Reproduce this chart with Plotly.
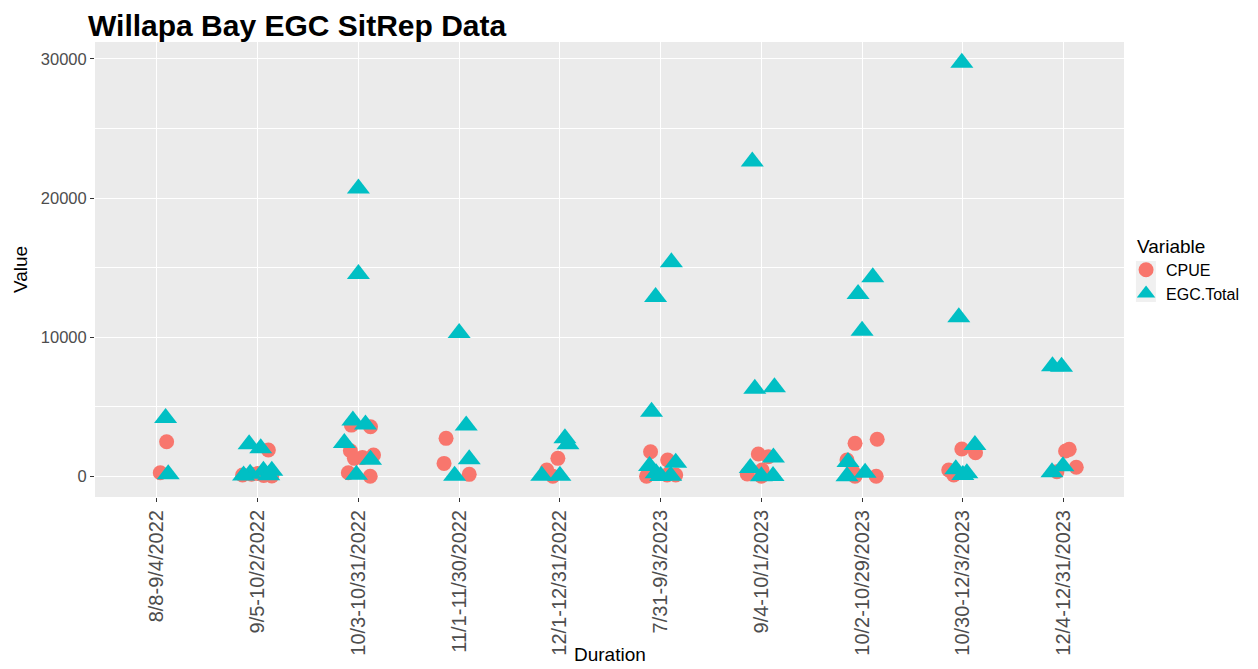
import plotly.graph_objects as go

categories = ["8/8-9/4/2022", "9/5-10/2/2022", "10/3-10/31/2022", "11/1-11/30/2022",
              "12/1-12/31/2022", "7/31-9/3/2023", "9/4-10/1/2023", "10/2-10/29/2023",
              "10/30-12/3/2023", "12/4-12/31/2023"]

# CPUE points: category index (1-based), jitter offset, value
cpue_cat = [1, 1,
            2, 2, 2, 2, 2, 2,
            3, 3, 3, 3, 3, 3, 3, 3,
            4, 4, 4,
            5, 5, 5,
            6, 6, 6, 6, 6,
            7, 7, 7, 7, 7,
            8, 8, 8, 8, 8, 8,
            9, 9, 9, 9,
            10, 10, 10, 10]
cpue_jit = [0.096, 0.033,
            -0.15, -0.06, 0.0, 0.06, 0.106, 0.14,
            -0.07, 0.12, -0.08, 0.04, 0.15, -0.04, -0.10, 0.117,
            -0.13, -0.15, 0.10,
            -0.02, -0.13, -0.07,
            -0.10, 0.07, -0.14, 0.064, 0.15,
            -0.03, 0.07, -0.14, 0.007, 0.0,
            -0.07, 0.15, -0.15, -0.09, 0.14, -0.07,
            -0.01, 0.126, -0.14, -0.09,
            0.056, 0.02, 0.126, -0.066]
cpue_val = [2480, 260,
            100, 150, 200, 60, 1890, 20,
            3680, 3560, 1840, 1360, 1530, 1290, 260, 0,
            2730, 930, 140,
            1290, 450, 0,
            1770, 1170, 0, 90, 90,
            1600, 1410, 170, 450, 0,
            2370, 2660, 1170, 330, 0, 0,
            1960, 1690, 450, 90,
            1940, 1820, 650, 330]

# EGC.Total points
egc_cat = [1, 1,
           2, 2, 2, 2, 2, 2, 2,
           3, 3, 3, 3, 3, 3, 3,
           4, 4, 4, 4,
           5, 5, 5, 5,
           6, 6, 6, 6, 6, 6, 6, 6,
           7, 7, 7, 7, 7, 7, 7,
           8, 8, 8, 8, 8, 8,
           9, 9, 9, 9, 9, 9,
           10, 10, 10, 10]
egc_jit = [0.086, 0.112,
           -0.085, 0.03, -0.075, 0.057, 0.14, -0.14, 0.11,
           0.0, 0.0, -0.055, 0.07, -0.14, 0.12, -0.02,
           0.0, 0.07, 0.10, -0.045,
           0.05, 0.08, -0.18, 0.0,
           0.107, -0.05, -0.09, 0.15, -0.11, -0.045, 0.1, 0.0,
           -0.09, -0.065, 0.13, 0.12, -0.11, 0.116, 0.0,
           0.106, -0.04, 0.0, -0.14, 0.03, -0.15,
           -0.01, -0.04, 0.12, -0.07, 0.04, 0.0,
           -0.11, -0.02, -0.006, -0.115]
egc_val = [4200, 140,
           2300, 2010, 190, 400, 400, 50, 80,
           20690, 14540, 4020, 3730, 2390, 1190, 115,
           10300, 3660, 1220, 45,
           2730, 2300, 45, 45,
           15380, 12890, 4640, 980, 740, 215, 45, 20,
           22620, 6290, 6410, 1360, 600, 20, 0,
           14300, 13100, 10470, 1030, 260, 0,
           29730, 11430, 2250, 500, 215, 100,
           7910, 7880, 720, 290]

y_ticks = [0, 10000, 20000, 30000]

FONT = "Liberation Sans, Arial, sans-serif"

fig = go.Figure()
fig.add_trace(go.Scatter(
    x=[c + j for c, j in zip(cpue_cat, cpue_jit)], y=cpue_val,
    mode="markers", name="CPUE",
    marker=dict(symbol="circle", size=15, color="#F8766D", line=dict(width=0)),
))
fig.add_trace(go.Scatter(
    x=[c + j for c, j in zip(egc_cat, egc_jit)], y=egc_val,
    mode="markers", name="EGC.Total",
    marker=dict(symbol="triangle-up", size=20, color="#00BFC4", line=dict(width=0)),
))

ymax = max(max(cpue_val), max(egc_val))
ymin = min(min(cpue_val), min(egc_val))
pad = 0.05 * (ymax - ymin)

fig.update_layout(
    width=1250, height=661,
    paper_bgcolor="white", plot_bgcolor="#EBEBEB",
    margin=dict(l=81, r=134, t=34, b=172),
    font=dict(family=FONT, color="black"),
    title=dict(text="<b>Willapa Bay EGC SitRep Data</b>", font=dict(size=30, color="black"),
               xref="container", x=0.064, xanchor="left", yref="container", y=0.973, yanchor="middle"),
    xaxis=dict(
        range=[0.385, len(categories) + 0.6],
        tickmode="array", tickvals=list(range(1, len(categories) + 1)), ticktext=categories,
        tickangle=-90, tickfont=dict(size=20, color="#4D4D4D"),
        showgrid=True, gridcolor="white", gridwidth=1.1, zeroline=False,
        ticks="outside", ticklen=4, tickcolor="#333333", tickwidth=1,
    ),
    yaxis=dict(
        range=[ymin - pad, ymax + pad],
        tickmode="array", tickvals=y_ticks, tickformat="d",
        tickfont=dict(size=16.5, color="#4D4D4D"),
        showgrid=True, gridcolor="white", gridwidth=1.1, zeroline=False,
        minor=dict(dtick=5000, tick0=0, showgrid=True, gridcolor="white", gridwidth=0.5),
        ticks="outside", ticklen=4, tickcolor="#333333", tickwidth=1,
        title=dict(text="Value", font=dict(size=19, color="black"), standoff=8),
    ),
    legend=dict(
        font=dict(size=16, color="black"),
        x=1.002, xanchor="left", y=0.473, yanchor="middle",
        bgcolor="rgba(0,0,0,0)", tracegroupgap=0, itemwidth=30,
    ),
    shapes=[dict(type="rect", xref="paper", yref="paper",
                 x0=1.0116, x1=1.031, y0=0.4286, y1=0.5187,
                 fillcolor="#F0F0F0", line=dict(width=0), layer="below")],
    annotations=[
        dict(text="Variable", xref="paper", yref="paper", x=1.0106, y=0.5516,
             xanchor="left", yanchor="middle", showarrow=False,
             font=dict(size=19, color="black")),
        dict(text="Duration", xref="paper", yref="paper", x=0.5, y=-0.347,
             xanchor="center", yanchor="middle", showarrow=False,
             font=dict(size=19, color="black")),
    ],
)

fig.write_html("out.html")
